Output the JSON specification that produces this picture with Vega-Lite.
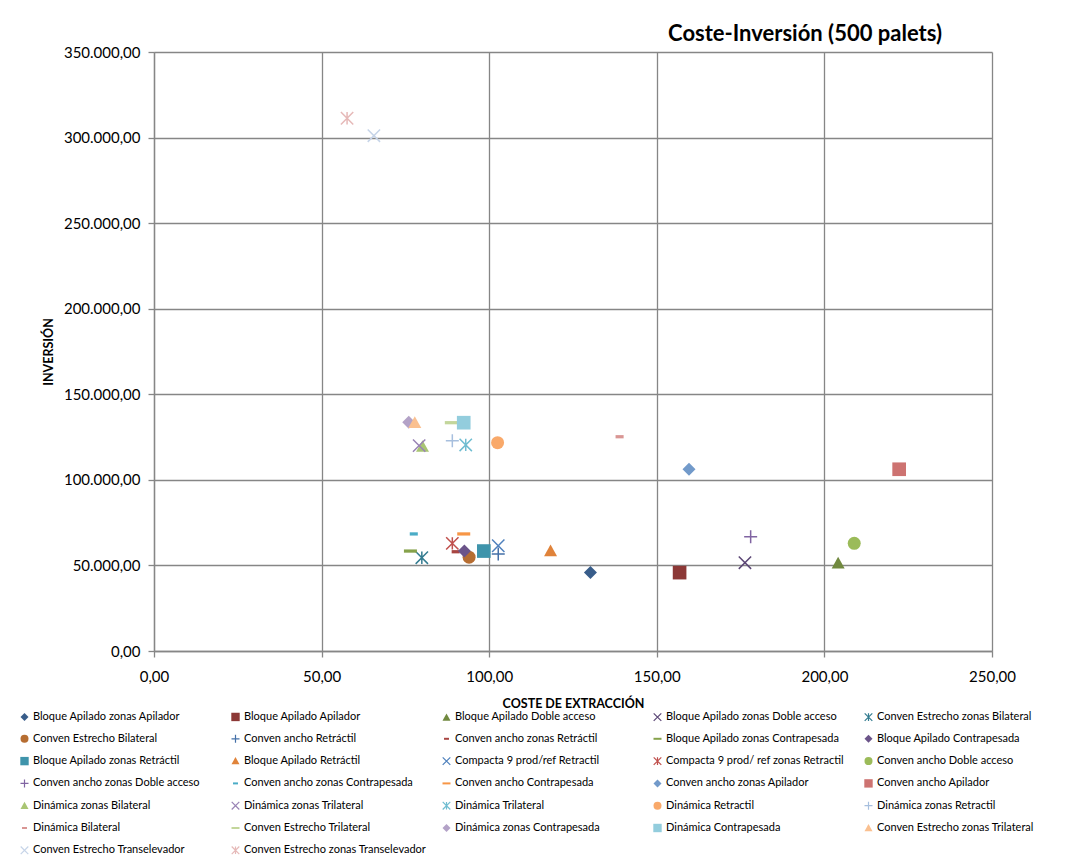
{
  "$schema": "https://vega.github.io/schema/vega-lite/v6.json",
  "autosize": {"type": "none"},
  "width": 838,
  "height": 599,
  "padding": {"left": 154, "top": 52, "right": 89, "bottom": 215},
  "background": "white",
  "title": {
    "text": "Coste-Inversión (500 palets)",
    "anchor": "middle",
    "dx": 232,
    "offset": -1,
    "font": "Lato",
    "fontSize": 22,
    "fontWeight": "bold",
    "color": "#000000"
  },
  "data": {
    "values": [
      {"serie": "Bloque Apilado zonas Apilador", "coste": 130.2, "inversion": 45800},
      {"serie": "Bloque Apilado Apilador", "coste": 156.8, "inversion": 45800},
      {"serie": "Bloque Apilado Doble acceso", "coste": 204.1, "inversion": 51200},
      {"serie": "Bloque Apilado zonas Doble acceso", "coste": 176.3, "inversion": 51600},
      {"serie": "Conven Estrecho zonas Bilateral", "coste": 79.9, "inversion": 54500},
      {"serie": "Conven Estrecho Bilateral", "coste": 94.0, "inversion": 54800},
      {"serie": "Conven ancho Retráctil", "coste": 102.7, "inversion": 56700},
      {"serie": "Conven ancho zonas Retráctil", "coste": 90.0, "inversion": 58000},
      {"serie": "Bloque Apilado zonas Contrapesada", "coste": 76.5, "inversion": 58400},
      {"serie": "Bloque Apilado Contrapesada", "coste": 92.6, "inversion": 58400},
      {"serie": "Bloque Apilado zonas Retráctil", "coste": 98.4, "inversion": 58400},
      {"serie": "Bloque Apilado Retráctil", "coste": 118.3, "inversion": 58400},
      {"serie": "Compacta 9 prod/ref Retractil", "coste": 102.7, "inversion": 61500},
      {"serie": "Compacta 9 prod/ ref zonas Retractil", "coste": 89.0, "inversion": 62900},
      {"serie": "Conven ancho Doble acceso", "coste": 208.9, "inversion": 62900},
      {"serie": "Conven ancho zonas Doble acceso", "coste": 178.0, "inversion": 66800},
      {"serie": "Conven ancho zonas Contrapesada", "coste": 77.5, "inversion": 68400},
      {"serie": "Conven ancho Contrapesada", "coste": 92.4, "inversion": 68400},
      {"serie": "Conven ancho zonas Apilador", "coste": 159.6, "inversion": 106200},
      {"serie": "Conven ancho Apilador", "coste": 222.3, "inversion": 106200},
      {"serie": "Dinámica zonas Bilateral", "coste": 80.1, "inversion": 119400},
      {"serie": "Dinámica zonas Trilateral", "coste": 79.1, "inversion": 120000},
      {"serie": "Dinámica Trilateral", "coste": 93.0, "inversion": 120400},
      {"serie": "Dinámica Retractil", "coste": 102.5, "inversion": 121700},
      {"serie": "Dinámica zonas Retractil", "coste": 89.0, "inversion": 122900},
      {"serie": "Dinámica Bilateral", "coste": 138.9, "inversion": 125200},
      {"serie": "Conven Estrecho Trilateral", "coste": 88.7, "inversion": 133400},
      {"serie": "Dinámica zonas Contrapesada", "coste": 76.0, "inversion": 133600},
      {"serie": "Dinámica Contrapesada", "coste": 92.4, "inversion": 133400},
      {"serie": "Conven Estrecho zonas Trilateral", "coste": 77.8, "inversion": 133400},
      {"serie": "Conven Estrecho Transelevador", "coste": 65.6, "inversion": 301100},
      {"serie": "Conven Estrecho zonas Transelevador", "coste": 57.6, "inversion": 311300}
    ]
  },
  "mark": {"type": "point", "filled": true, "opacity": 1, "size": 169, "strokeWidth": 1.5},
  "encoding": {
    "x": {
      "field": "coste",
      "type": "quantitative",
      "title": "COSTE DE EXTRACCIÓN",
      "scale": {"domain": [0, 250], "nice": false, "zero": true},
      "axis": {"values": [0, 50, 100, 150, 200, 250], "format": ",.2f", "labelPadding": 12, "titlePadding": 13}
    },
    "y": {
      "field": "inversion",
      "type": "quantitative",
      "title": "INVERSIÓN",
      "scale": {"domain": [0, 350000], "nice": false},
      "axis": {"values": [0, 50000, 100000, 150000, 200000, 250000, 300000, 350000], "format": ",.2f", "labelPadding": 8, "titlePadding": 8}
    },
    "shape": {
      "field": "serie",
      "type": "nominal",
      "scale": {
        "domain": [
          "Bloque Apilado zonas Apilador", "Bloque Apilado Apilador", "Bloque Apilado Doble acceso", "Bloque Apilado zonas Doble acceso", "Conven Estrecho zonas Bilateral",
          "Conven Estrecho Bilateral", "Conven ancho Retráctil", "Conven ancho zonas Retráctil", "Bloque Apilado zonas Contrapesada", "Bloque Apilado Contrapesada",
          "Bloque Apilado zonas Retráctil", "Bloque Apilado Retráctil", "Compacta 9 prod/ref Retractil", "Compacta 9 prod/ ref zonas Retractil", "Conven ancho Doble acceso",
          "Conven ancho zonas Doble acceso", "Conven ancho zonas Contrapesada", "Conven ancho Contrapesada", "Conven ancho zonas Apilador", "Conven ancho Apilador",
          "Dinámica zonas Bilateral", "Dinámica zonas Trilateral", "Dinámica Trilateral", "Dinámica Retractil", "Dinámica zonas Retractil",
          "Dinámica Bilateral", "Conven Estrecho Trilateral", "Dinámica zonas Contrapesada", "Dinámica Contrapesada", "Conven Estrecho zonas Trilateral",
          "Conven Estrecho Transelevador", "Conven Estrecho zonas Transelevador"
        ],
        "range": [
          "M0,-1L1,0L0,1L-1,0Z", "M-1.05,-1.05H1.05V1.05H-1.05Z", "M0,-1L1,0.8L-1,0.8Z", "M-0.95,-0.95L0.95,0.95M-0.95,0.95L0.95,-0.95", "M-0.95,-0.95L0.95,0.95M-0.95,0.95L0.95,-0.95M0,-0.95V0.95",
          "circle", "M-1,0H1M0,-1V1", "M-0.62,-0.25H0.62V0.25H-0.62Z", "M-1,-0.25H1V0.25H-1Z", "M0,-1L1,0L0,1L-1,0Z",
          "M-1.05,-1.05H1.05V1.05H-1.05Z", "M0,-1L1,0.8L-1,0.8Z", "M-0.95,-0.95L0.95,0.95M-0.95,0.95L0.95,-0.95", "M-0.95,-0.95L0.95,0.95M-0.95,0.95L0.95,-0.95M0,-0.95V0.95", "circle",
          "M-1,0H1M0,-1V1", "M-0.62,-0.25H0.62V0.25H-0.62Z", "M-1,-0.25H1V0.25H-1Z", "M0,-1L1,0L0,1L-1,0Z", "M-1.05,-1.05H1.05V1.05H-1.05Z",
          "M0,-1L1,0.8L-1,0.8Z", "M-0.95,-0.95L0.95,0.95M-0.95,0.95L0.95,-0.95", "M-0.95,-0.95L0.95,0.95M-0.95,0.95L0.95,-0.95M0,-0.95V0.95", "circle", "M-1,0H1M0,-1V1",
          "M-0.62,-0.25H0.62V0.25H-0.62Z", "M-1,-0.25H1V0.25H-1Z", "M0,-1L1,0L0,1L-1,0Z", "M-1.05,-1.05H1.05V1.05H-1.05Z", "M0,-1L1,0.8L-1,0.8Z",
          "M-0.95,-0.95L0.95,0.95M-0.95,0.95L0.95,-0.95", "M-0.95,-0.95L0.95,0.95M-0.95,0.95L0.95,-0.95M0,-0.95V0.95"
        ]
      },
      "legend": {
        "title": null,
        "orient": "none",
        "direction": "horizontal",
        "legendX": -135,
        "legendY": 659,
        "columns": 5,
        "gridAlign": "all",
        "columnPadding": 12,
        "rowPadding": 7.3,
        "symbolLimit": 0,
        "symbolSize": 64,
        "symbolStrokeWidth": 1.2,
        "labelFont": "Lato",
        "labelFontSize": 11,
        "labelColor": "#000000",
        "labelOffset": 3,
        "labelLimit": 240
      }
    },
    "fill": {
      "field": "serie",
      "type": "nominal",
      "scale": {
        "domain": [
          "Bloque Apilado zonas Apilador", "Bloque Apilado Apilador", "Bloque Apilado Doble acceso", "Bloque Apilado zonas Doble acceso", "Conven Estrecho zonas Bilateral",
          "Conven Estrecho Bilateral", "Conven ancho Retráctil", "Conven ancho zonas Retráctil", "Bloque Apilado zonas Contrapesada", "Bloque Apilado Contrapesada",
          "Bloque Apilado zonas Retráctil", "Bloque Apilado Retráctil", "Compacta 9 prod/ref Retractil", "Compacta 9 prod/ ref zonas Retractil", "Conven ancho Doble acceso",
          "Conven ancho zonas Doble acceso", "Conven ancho zonas Contrapesada", "Conven ancho Contrapesada", "Conven ancho zonas Apilador", "Conven ancho Apilador",
          "Dinámica zonas Bilateral", "Dinámica zonas Trilateral", "Dinámica Trilateral", "Dinámica Retractil", "Dinámica zonas Retractil",
          "Dinámica Bilateral", "Conven Estrecho Trilateral", "Dinámica zonas Contrapesada", "Dinámica Contrapesada", "Conven Estrecho zonas Trilateral",
          "Conven Estrecho Transelevador", "Conven Estrecho zonas Transelevador"
        ],
        "range": [
          "#385D8A", "#8C3836", "#71893F", "transparent", "transparent",
          "#B66D31", "transparent", "#A84542", "#86A24B", "#6B5489",
          "#3F94AB", "#E0833A", "transparent", "transparent", "#9BBB59",
          "transparent", "#4BACC6", "#F79646", "#729ACA", "#CD7371",
          "#A9C573", "transparent", "transparent", "#F9A96A", "transparent",
          "#D99694", "#C3D69B", "#B3A2C7", "#93CDDD", "#FAC090",
          "transparent", "transparent"
        ]
      },
      "legend": {
        "title": null,
        "orient": "none",
        "direction": "horizontal",
        "legendX": -135,
        "legendY": 659,
        "columns": 5,
        "gridAlign": "all",
        "columnPadding": 12,
        "rowPadding": 7.3,
        "symbolLimit": 0,
        "symbolSize": 64,
        "symbolStrokeWidth": 1.2,
        "labelFont": "Lato",
        "labelFontSize": 11,
        "labelColor": "#000000",
        "labelOffset": 3,
        "labelLimit": 240
      }
    },
    "stroke": {
      "field": "serie",
      "type": "nominal",
      "scale": {
        "domain": [
          "Bloque Apilado zonas Apilador", "Bloque Apilado Apilador", "Bloque Apilado Doble acceso", "Bloque Apilado zonas Doble acceso", "Conven Estrecho zonas Bilateral",
          "Conven Estrecho Bilateral", "Conven ancho Retráctil", "Conven ancho zonas Retráctil", "Bloque Apilado zonas Contrapesada", "Bloque Apilado Contrapesada",
          "Bloque Apilado zonas Retráctil", "Bloque Apilado Retráctil", "Compacta 9 prod/ref Retractil", "Compacta 9 prod/ ref zonas Retractil", "Conven ancho Doble acceso",
          "Conven ancho zonas Doble acceso", "Conven ancho zonas Contrapesada", "Conven ancho Contrapesada", "Conven ancho zonas Apilador", "Conven ancho Apilador",
          "Dinámica zonas Bilateral", "Dinámica zonas Trilateral", "Dinámica Trilateral", "Dinámica Retractil", "Dinámica zonas Retractil",
          "Dinámica Bilateral", "Conven Estrecho Trilateral", "Dinámica zonas Contrapesada", "Dinámica Contrapesada", "Conven Estrecho zonas Trilateral",
          "Conven Estrecho Transelevador", "Conven Estrecho zonas Transelevador"
        ],
        "range": [
          "transparent", "transparent", "transparent", "#5C4776", "#357D91",
          "transparent", "#4470A8", "transparent", "transparent", "transparent",
          "transparent", "transparent", "#4F81BD", "#C0504D", "transparent",
          "#8064A2", "transparent", "transparent", "transparent", "transparent",
          "transparent", "#9983B5", "#6FBDD1", "transparent", "#A7BFDE",
          "transparent", "transparent", "transparent", "transparent", "transparent",
          "#C6D4E8", "#E6B9B8"
        ]
      },
      "legend": {
        "title": null,
        "orient": "none",
        "direction": "horizontal",
        "legendX": -135,
        "legendY": 659,
        "columns": 5,
        "gridAlign": "all",
        "columnPadding": 12,
        "rowPadding": 7.3,
        "symbolLimit": 0,
        "symbolSize": 64,
        "symbolStrokeWidth": 1.2,
        "labelFont": "Lato",
        "labelFontSize": 11,
        "labelColor": "#000000",
        "labelOffset": 3,
        "labelLimit": 240
      }
    }
  },
  "config": {
    "locale": {
      "number": {"decimal": ",", "thousands": ".", "grouping": [3], "currency": ["", " €"]}
    },
    "view": {"stroke": null},
    "axis": {
      "labelFont": "Lato",
      "labelFontSize": 15,
      "labelColor": "#000000",
      "titleFont": "Lato",
      "titleFontSize": 12.5,
      "titleFontWeight": "bold",
      "titleColor": "#000000",
      "grid": true,
      "gridColor": "#868686",
      "gridWidth": 1.3,
      "domainColor": "#868686",
      "domainWidth": 1.3,
      "tickColor": "#868686",
      "tickWidth": 1.3,
      "tickSize": 6,
      "labelFlush": false,
      "labelOverlap": false
    }
  }
}
